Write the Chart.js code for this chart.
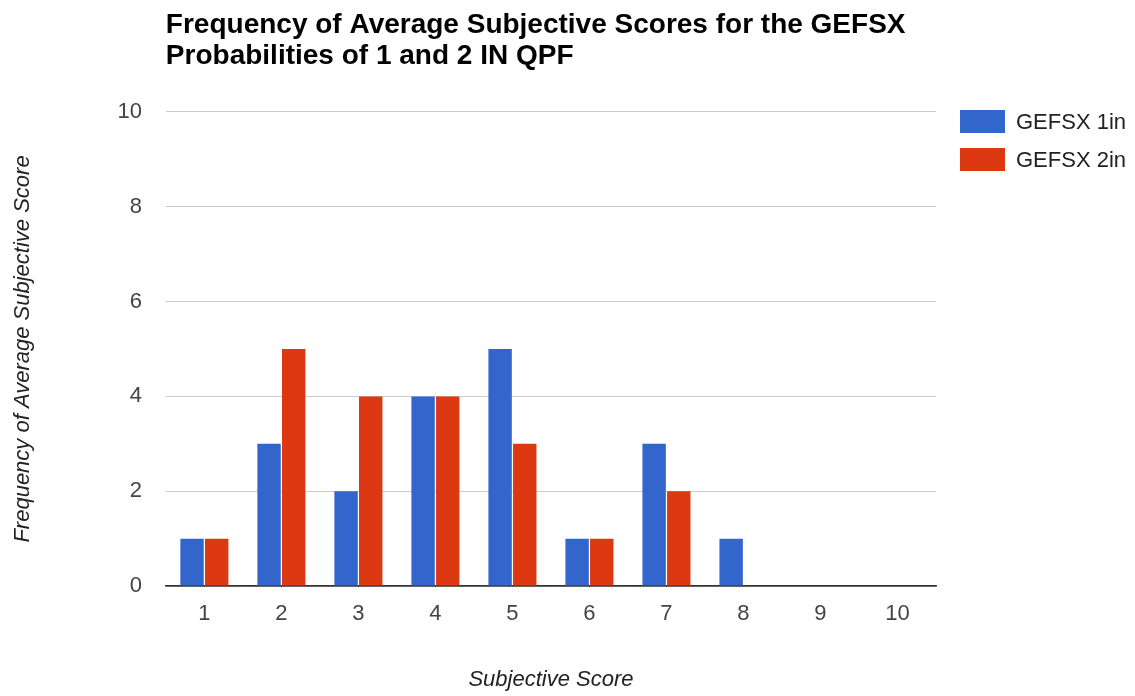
<!DOCTYPE html>
<html>
<head>
<meta charset="utf-8">
<title>Frequency of Average Subjective Scores</title>
<script src="https://cdn.jsdelivr.net/npm/chart.js@4/dist/chart.umd.min.js"></script>
<style>
  html, body { margin: 0; padding: 0; background: #fff; }
  #wrap { position: relative; width: 1135px; height: 696px; }
  #legend { position: absolute; left: 960px; top: 110px; font-family: "Liberation Sans", Arial, sans-serif; font-size: 22px; color: #222; }
  #legend .item { display: flex; align-items: center; height: 23px; margin-bottom: 15px; }
  #legend .box { width: 45px; height: 23px; margin-right: 11px; }
</style>
</head>
<body>
<div id="wrap">
  <canvas id="barChart"></canvas>
  <div id="legend"></div>
</div>
<script>
"use strict";

// Chart data
var scores = ["1", "2", "3", "4", "5", "6", "7", "8", "9", "10"];
var oneInch = [1, 3, 2, 4, 5, 1, 3, 1, 0, 0];
var twoInch = [1, 5, 4, 4, 3, 1, 2, 0, 0, 0];
var seriesNames = ["GEFSX 1in", "GEFSX 2in"];
var yTicks = [0, 2, 4, 6, 8, 10];

// Colours
var blue = "#3366cc";
var red = "#dc3912";

Chart.defaults.font.family = "'Liberation Sans', Arial, sans-serif";

// Builds the legend as html next to the canvas
function buildLegend(chart) {
    var el = document.getElementById("legend");
    el.innerHTML = "";
    chart.data.datasets.forEach(function(ds) {
        var item = document.createElement("div");
        item.className = "item";
        var box = document.createElement("span");
        box.className = "box";
        box.style.background = ds.backgroundColor;
        var txt = document.createElement("span");
        txt.textContent = ds.label;
        item.appendChild(box);
        item.appendChild(txt);
        el.appendChild(item);
    });
}

function drawBarChart() {
    var ctx = document.getElementById("barChart");
    var chart = new Chart(ctx, {
        type: "bar",
        data: {
            labels: scores,
            datasets: [{
                label: seriesNames[0],
                data: oneInch,
                backgroundColor: blue
            }, {
                label: seriesNames[1],
                data: twoInch,
                backgroundColor: red
            }]
        },
        options: {
            responsive: true,
            maintainAspectRatio: false,
            animation: false,
            categoryPercentage: 0.64,
            barPercentage: 0.95,
            layout: { padding: { left: 0, right: 199, top: 0, bottom: 0 } },
            plugins: {
                legend: { display: false },
                tooltip: { enabled: false },
                title: {
                    display: true,
                    text: ["Frequency of Average Subjective Scores for the GEFSX", "Probabilities of 1 and 2 IN QPF"],
                    align: "start",
                    fullSize: false,
                    color: "#000",
                    font: { size: 28, weight: "bold", lineHeight: 1.12 },
                    padding: { top: 9.5, bottom: 39.5 }
                }
            },
            scales: {
                x: {
                    grid: { display: false },
                    border: { color: "#333", width: 1.5 },
                    ticks: { color: "#444", font: { size: 22 }, padding: 7, maxRotation: 0 },
                    title: {
                        display: true,
                        text: "Subjective Score",
                        color: "#222",
                        font: { size: 22, style: "italic" },
                        padding: { top: 32, bottom: 3 }
                    }
                },
                y: {
                    min: 0,
                    max: 10,
                    afterBuildTicks: function(axis) {
                        axis.ticks = yTicks.map(function(v) { return { value: v }; });
                    },
                    grid: {
                        drawTicks: false,
                        color: function(c) { return c.tick && c.tick.value === 0 ? "#333" : "#cccccc"; },
                        lineWidth: function(c) { return c.tick && c.tick.value === 0 ? 1.5 : 1; }
                    },
                    border: { display: false },
                    ticks: { color: "#444", font: { size: 22 }, padding: 24 },
                    title: {
                        display: true,
                        text: "Frequency of Average Subjective Score",
                        color: "#222",
                        font: { size: 22, style: "italic" },
                        padding: { top: 10, bottom: 57 }
                    }
                }
            }
        }
    });
    buildLegend(chart);
}

drawBarChart();
</script>
</body>
</html>
